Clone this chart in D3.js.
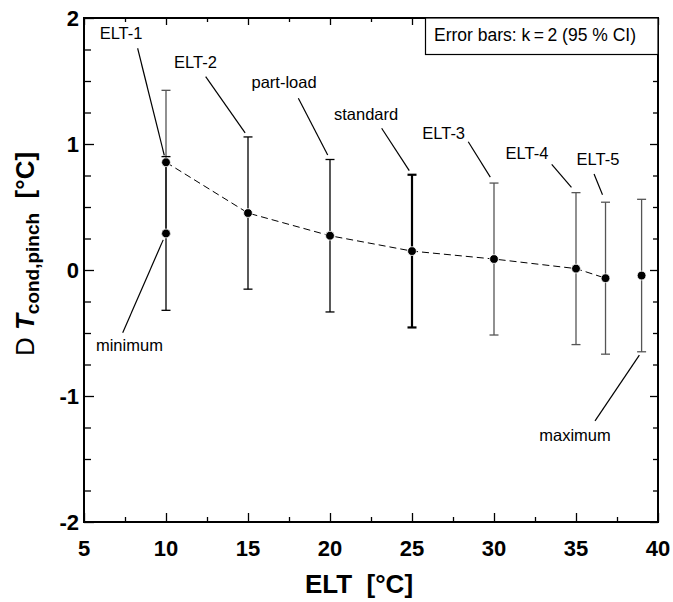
<!DOCTYPE html>
<html>
<head>
<meta charset="utf-8">
<script src="https://cdn.jsdelivr.net/npm/d3@7"></script>
<style>
  html, body { margin: 0; padding: 0; background: #fff; }
  svg { display: block; }
  text { font-family: "Liberation Sans", Arial, sans-serif; fill: #000; }
</style>
</head>
<body>
<svg id="chart" width="673" height="602"></svg>
<script>
// Condenser pinch-point temperature difference vs. entering liquid temperature
const cases   = ["ELT-1", "ELT-2", "part-load", "standard", "ELT-3", "ELT-4", "ELT-5"];
const eltC    = [10, 15, 20, 25, 30, 35, 36.8];
const dTpinch = [0.855, 0.452, 0.272, 0.150, 0.087, 0.011, -0.065];
const uK2     = [0.571, 0.604, 0.605, 0.606, 0.603, 0.603, 0.603];

// Extreme cases shown without the connecting line
const extremeCases = ["minimum", "maximum"];
const extremeELT   = [10, 39.0];
const extremeDT    = [0.29, -0.044];
const extremeU     = [0.61, 0.605];

const xTicks = [5, 10, 15, 20, 25, 30, 35, 40];
const yTicks = [-2, -1, 0, 1, 2];
const legendText = "Error bars: k\u2009=\u20092 (95 % CI)";

// ---- layout ----
const W = 673, H = 602;
const m = { left: 84, right: 15, top: 18, bottom: 80 };
const svg = d3.select("#chart");

const x = d3.scaleLinear().domain([5, 40]).range([m.left, W - m.right]);
const y = d3.scaleLinear().domain([-2, 2]).range([H - m.bottom, m.top]);
const X0 = x.range()[0], X1 = x.range()[1], Y0 = y.range()[0], Y1 = y.range()[1];

// ---- ticks (inward) ----
const xMinor = d3.range(7.5, 40, 5);
const yMinor = d3.range(-1.75, 2, 0.25).filter(v => Math.abs(v - Math.round(v)) > 1e-6);

function tickAxis(axisFn, scale, vals, len, tx, ty) {
  svg.append("g")
    .attr("transform", `translate(${tx},${ty})`)
    .call(axisFn(scale).tickValues(vals).tickSize(len).tickFormat(""))
    .call(g => g.select(".domain").remove())
    .call(g => g.selectAll("line").attr("stroke", "#000").attr("stroke-width", 1.3));
}
tickAxis(d3.axisBottom, x, xTicks, -9, 0, Y0);
tickAxis(d3.axisBottom, x, xMinor, -5, 0, Y0);
tickAxis(d3.axisTop, x, xTicks, -7, 0, Y1);
tickAxis(d3.axisTop, x, xMinor, -4, 0, Y1);
tickAxis(d3.axisLeft, y, yTicks, -10, X0, 0);
tickAxis(d3.axisLeft, y, yMinor, -7, X0, 0);
tickAxis(d3.axisRight, y, yTicks, -8, X1, 0);
tickAxis(d3.axisRight, y, yMinor, -5, X1, 0);

// frame
svg.append("rect")
  .attr("x", X0).attr("y", Y1).attr("width", X1 - X0).attr("height", Y0 - Y1)
  .attr("fill", "none").attr("stroke", "#000").attr("stroke-width", 2);

// tick labels
svg.append("g").selectAll("text").data(xTicks).join("text")
  .attr("x", d => x(d)).attr("y", Y0 + 34)
  .attr("text-anchor", "middle").attr("font-size", 22).attr("font-weight", "bold")
  .text(d => d);
svg.append("g").selectAll("text").data(yTicks).join("text")
  .attr("x", X0 - 5).attr("y", d => y(d)).attr("dy", "0.36em")
  .attr("text-anchor", "end").attr("font-size", 22).attr("font-weight", "bold")
  .text(d => d);

// axis titles
svg.append("text")
  .attr("x", 359).attr("y", 593)
  .attr("text-anchor", "middle").attr("font-size", 26).attr("font-weight", "bold")
  .attr("xml:space", "preserve")
  .text("ELT  [°C]");

const yt = svg.append("text")
  .attr("transform", "translate(34,254) rotate(-90)")
  .attr("text-anchor", "middle").attr("font-size", 26)
  .attr("xml:space", "preserve");
yt.append("tspan").text("D ");
yt.append("tspan").attr("font-weight", "bold").attr("font-style", "italic").text("T");
yt.append("tspan").attr("font-weight", "bold").attr("font-size", 19).attr("dy", 5).text("cond,pinch");
yt.append("tspan").attr("font-weight", "bold").attr("dy", -5).text("  [°C]");

// legend box
svg.append("rect")
  .attr("x", 425.5).attr("y", Y1).attr("width", X1 - 425.5).attr("height", 36.5)
  .attr("fill", "#fff").attr("stroke", "#000").attr("stroke-width", 1.2);
svg.append("text")
  .attr("x", 434).attr("y", 41).attr("font-size", 17.5)
  .text(legendText);

// ---- error bars ----
const bars = cases.map((c, i) => ({ name: c, x: eltC[i], v: dTpinch[i], u: uK2[i] }))
  .concat(extremeCases.map((c, i) => ({ name: c, x: extremeELT[i], v: extremeDT[i], u: extremeU[i] })));
const barStyle = {
  "ELT-1": { stroke: "#555", w: 1.3 }, "ELT-2": { stroke: "#000", w: 1.3 },
  "part-load": { stroke: "#000", w: 1.3 }, "standard": { stroke: "#000", w: 2.2 },
  "ELT-3": { stroke: "#555", w: 1.3 }, "ELT-4": { stroke: "#555", w: 1.3 },
  "ELT-5": { stroke: "#555", w: 1.3 }, "minimum": { stroke: "#000", w: 1.3 },
  "maximum": { stroke: "#555", w: 1.3 }
};
const cap = 4.5;
const eb = svg.append("g");
bars.forEach(b => {
  const s = barStyle[b.name];
  const g = eb.append("g").attr("stroke", s.stroke).attr("stroke-width", s.w);
  const cx = x(b.x), yt2 = y(b.v + b.u), yb = y(b.v - b.u);
  g.append("line").attr("x1", cx).attr("x2", cx).attr("y1", yt2).attr("y2", yb);
  g.append("line").attr("x1", cx - cap).attr("x2", cx + cap).attr("y1", yt2).attr("y2", yt2);
  g.append("line").attr("x1", cx - cap).attr("x2", cx + cap).attr("y1", yb).attr("y2", yb);
});

// dashed trend through the ELT cases
svg.append("path")
  .datum(eltC.map((e, i) => [e, dTpinch[i]]))
  .attr("fill", "none").attr("stroke", "#000").attr("stroke-width", 1)
  .attr("stroke-dasharray", "7,4")
  .attr("d", d3.line().x(d => x(d[0])).y(d => y(d[1])));

// markers
svg.append("g").selectAll("circle").data(bars).join("circle")
  .attr("cx", d => x(d.x)).attr("cy", d => y(d.v)).attr("r", 4.4)
  .attr("fill", "#000").attr("stroke", "#fff").attr("stroke-width", 0.8);

// ---- annotations: label anchor (data units) and leader start (data units) ----
const notes = [
  { name: "ELT-1",     tx: 7.26,  ty: 1.833,  lx: 8.27,  ly: 1.76,   to: "point", gap: 7 },
  { name: "ELT-2",     tx: 11.80, ty: 1.603,  lx: 12.42, ly: 1.534,  to: "top",   gap: 5 },
  { name: "part-load", tx: 17.20, ty: 1.444,  lx: 18.07, ly: 1.363,  to: "top",   gap: 5 },
  { name: "standard",  tx: 22.20, ty: 1.19,   lx: 23.15, ly: 1.125,  to: "top",   gap: 5 },
  { name: "ELT-3",     tx: 26.93, ty: 1.04,   lx: 28.43, ly: 1.018,  to: "top",   gap: 7 },
  { name: "ELT-4",     tx: 32.01, ty: 0.881,  lx: 33.52, ly: 0.839,  to: "top",   gap: 7 },
  { name: "ELT-5",     tx: 36.34, ty: 0.833,  lx: 36.10, ly: 0.762,  to: "top",   gap: 8 },
  { name: "minimum",   tx: 7.77,  ty: -0.643, lx: 7.36,  ly: -0.498, to: "point", gap: 7 },
  { name: "maximum",   tx: 34.94, ty: -1.357, lx: 36.16, ly: -1.198, to: "bottom", gap: 4 }
];
const ann = svg.append("g");
notes.forEach(n => {
  const b = bars.find(d => d.name === n.name);
  const px = x(b.x);
  const py = n.to === "point" ? y(b.v) : n.to === "top" ? y(b.v + b.u) : y(b.v - b.u);
  const sx = x(n.lx), sy = y(n.ly);
  const dx = px - sx, dy = py - sy, len = Math.hypot(dx, dy);
  const ex = px - dx / len * n.gap, ey = py - dy / len * n.gap;
  ann.append("line")
    .attr("x1", sx).attr("y1", sy).attr("x2", ex).attr("y2", ey)
    .attr("stroke", "#000").attr("stroke-width", 1.2);
  ann.append("text")
    .attr("x", x(n.tx)).attr("y", y(n.ty))
    .attr("text-anchor", "middle").attr("font-size", 16.5)
    .text(n.name);
});
</script>
</body>
</html>
